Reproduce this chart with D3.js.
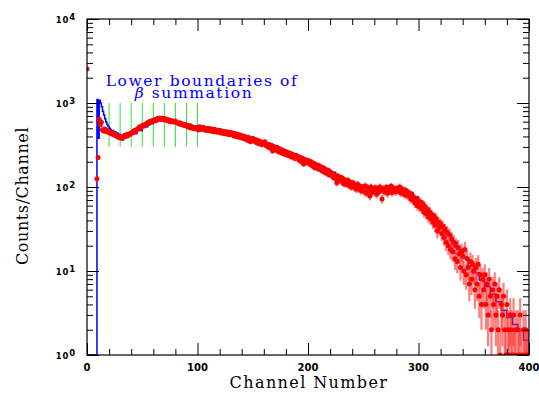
<!DOCTYPE html>
<html>
<head>
<meta charset="utf-8">
<script src="https://cdn.jsdelivr.net/npm/d3@7"></script>
<style>
body { margin: 0; background: #fff; }
.tick line { stroke: #000; }
.xlab { font-family: "DejaVu Sans", sans-serif; font-weight: bold; font-size: 10px; }
.ylab { font-family: "DejaVu Sans", sans-serif; font-weight: bold; font-size: 8.5px; letter-spacing: 0.8px; }
.title { font-family: "DejaVu Serif", serif; font-size: 16px; }
</style>
</head>
<body>
<div class="chart"></div>
<script>
// counts per channel, channel 0 .. 400
var counts = [
  2540, 0, 0, 0, 0, 0, 0, 0, 0, 125,
  225, 640, 550, 590, 480, 465, 490, 458, 475, 450,
  455, 435, 450, 425, 430, 412, 418, 398, 402, 388,
  383, 395, 378, 402, 410, 398, 422, 408, 428, 425,
  442, 438, 460, 472, 455, 485, 490, 510, 522, 505,
  535, 548, 532, 560, 568, 585, 570, 605, 590, 615,
  622, 632, 612, 645, 652, 638, 665, 648, 635, 660,
  632, 648, 620, 636, 605, 622, 598, 615, 592, 600,
  610, 585, 578, 565, 580, 555, 568, 542, 558, 535,
  548, 525, 515, 540, 505, 522, 500, 495, 512, 490,
  505, 478, 520, 495, 488, 515, 480, 502, 470, 492,
  498, 468, 495, 462, 488, 455, 482, 470, 448, 466,
  475, 440, 465, 452, 430, 458, 445, 425, 452, 420,
  445, 418, 438, 405, 432, 400, 425, 395, 420, 385,
  410, 380, 402, 372, 395, 360, 392, 365, 345, 372,
  380, 352, 368, 338, 362, 330, 350, 345, 318, 340,
  325, 345, 312, 320, 298, 318, 290, 315, 268, 302,
  288, 275, 298, 265, 285, 258, 278, 250, 270, 245,
  262, 240, 258, 236, 250, 228, 245, 232, 218, 238,
  222, 232, 208, 225, 200, 220, 188, 212, 195, 208,
  195, 205, 185, 198, 178, 192, 170, 186, 175, 165,
  180, 162, 172, 155, 168, 150, 162, 145, 158, 140,
  152, 138, 145, 130, 140, 126, 112, 135, 120, 128,
  118, 128, 110, 122, 108, 116, 120, 104, 115, 100,
  108, 112, 98, 104, 94, 108, 96, 102, 90, 99,
  100, 88, 103, 84, 98, 92, 78, 100, 86, 95,
  90, 98, 82, 95, 87, 100, 92, 72, 96, 88,
  94, 99, 84, 97, 90, 102, 86, 98, 92, 88,
  96, 90, 94, 100, 85, 95, 87, 82, 92, 80,
  88, 78, 84, 72, 80, 70, 75, 64, 71, 60,
  68, 58, 66, 55, 62, 50, 58, 48, 54, 44,
  50, 42, 47, 38, 44, 35, 42, 30, 38, 33,
  36, 28, 34, 25, 31, 22, 29, 20, 27, 18,
  24, 17, 22, 14, 20, 13, 19, 16, 11, 17,
  15, 10, 18, 9, 14, 11, 7, 13, 8, 12,
  10, 6, 11, 7, 12, 5, 9, 4, 8, 6,
  9, 4, 7, 3, 8, 5, 2, 6, 4, 7,
  3, 5, 2, 6, 1, 4, 3, 5, 2, 1,
  4, 2, 1, 3, 2, 1, 3, 1, 2, 0,
  2, 1, 3, 1, 0, 2, 1, 2, 1, 1,
  1
];

// fitted model (blue)
var modelChannel = [0, 9, 10, 11, 12, 13, 14, 15, 16, 17, 18, 19, 20, 21, 22, 24, 26, 28, 30, 33, 36,
  40, 45, 50, 55, 60, 65, 70, 75, 80, 85, 90, 95, 100, 105, 110, 115, 120, 125, 130, 135,
  140, 145, 150, 155, 160, 165, 170, 175, 180, 185, 190, 195, 200, 205, 210, 215, 220, 225,
  230, 235, 240, 245, 250, 255, 260, 265, 270, 275, 280, 285, 290, 295, 300, 305, 310, 315,
  320, 325, 330, 335, 340, 345, 350, 355, 360, 365, 370, 375, 380, 385, 390, 395, 400];
var modelCounts = [0, 1100, 380, 1080, 1000, 900, 800, 720, 650, 595, 555, 525, 500, 485, 472, 455, 440, 425, 412, 405, 410,
  430, 470, 520, 570, 610, 630, 630, 615, 595, 570, 545, 525, 505, 495, 485, 475, 462, 450, 438, 425,
  405, 388, 370, 352, 333, 315, 295, 275, 258, 243, 228, 214, 200, 188, 175, 162, 150, 137,
  123, 114, 107, 102, 98, 95, 93, 92, 92, 93, 93, 91, 86, 76, 66, 56, 47, 39,
  33, 27, 22, 18, 14.5, 11.5, 9.5, 7.8, 6.5, 5.3, 4.3, 3.4, 2.8, 2.3, 2.0, 1.5, 1.05];

// lower boundaries of beta summation (green)
var boundaries = [20, 30, 40, 50, 60, 70, 80, 90, 100];
var boundaryRange = [300, 1000];

var xTicks = [0, 100, 200, 300, 400];
var xMinor = [20, 40, 60, 80, 120, 140, 160, 180, 220, 240, 260, 280, 320, 340, 360, 380];
var yTicks = [1, 10, 100, 1000, 10000];

var W = 539, H = 395;
var margin = {top: 19, right: 10, bottom: 40, left: 87};
var width = W - margin.left - margin.right,
    height = H - margin.top - margin.bottom;

var svg = d3.select(".chart").append("svg")
    .attr("width", W)
    .attr("height", H)
  .append("g")
    .attr("transform", "translate(" + margin.left + "," + margin.top + ")");

var x = d3.scaleLinear().domain([0, 400]).range([0, width]);
var y = d3.scaleLog().domain([1, 10000]).range([height, 0]);

var yMinor = [];
yTicks.slice(0, -1).forEach(function(d){
  for (var k = 2; k < 10; k++) yMinor.push(d * k);
});

svg.append("clipPath").attr("id", "clip")
  .append("rect").attr("width", width).attr("height", height);

var plot = svg.append("g").attr("clip-path", "url(#clip)");

// green boundary lines
plot.selectAll(".bound")
    .data(boundaries)
  .enter().append("line")
    .attr("x1", function(d){ return x(d); })
    .attr("x2", function(d){ return x(d); })
    .attr("y1", y(boundaryRange[0]))
    .attr("y2", y(boundaryRange[1]))
    .style("stroke", "#33e633")
    .style("stroke-width", 1);

// model
var model = modelChannel.map(function(c, i){ return {c: c, v: modelCounts[i]}; });
var line = d3.line()
    .x(function(d){ return x(d.c); })
    .y(function(d){ return y(Math.max(d.v, 1)); })
    .curve(d3.curveStepAfter);

plot.append("path")
    .datum(model)
    .attr("d", line)
    .style("fill", "none")
    .style("stroke", "#0000ff")
    .style("stroke-width", 1.5);

// data with sqrt(N) errors
var data = counts.map(function(v, i){ return {c: i, v: v}; })
    .filter(function(d){ return d.v > 0; });

plot.selectAll(".err")
    .data(data)
  .enter().append("line")
    .attr("class", "err")
    .attr("x1", function(d){ return x(d.c); })
    .attr("x2", function(d){ return x(d.c); })
    .attr("y1", function(d){ return y(Math.max(d.v - Math.sqrt(d.v), 0.5)); })
    .attr("y2", function(d){ return y(d.v + Math.sqrt(d.v)); })
    .style("stroke", "#ff2a2a")
    .style("stroke-opacity", 0.6)
    .style("stroke-width", 2.2);

plot.selectAll(".point")
    .data(data)
  .enter().append("circle")
    .attr("class", "point")
    .attr("r", 2.5)
    .attr("cx", function(d){ return x(d.c); })
    .attr("cy", function(d){ return y(d.v); })
    .style("fill", "#ff0000");

// ticks on all four sides, pointing inward
function noLab(){ return ""; }
svg.append("g").attr("transform", "translate(0," + height + ")")
    .call(d3.axisBottom(x).tickValues(xTicks).tickSize(-12).tickSizeOuter(0).tickFormat(noLab));
svg.append("g").attr("transform", "translate(0," + height + ")")
    .call(d3.axisBottom(x).tickValues(xMinor).tickSize(-6).tickSizeOuter(0).tickFormat(noLab));
svg.append("g")
    .call(d3.axisTop(x).tickValues(xTicks).tickSize(-12).tickSizeOuter(0).tickFormat(noLab));
svg.append("g")
    .call(d3.axisTop(x).tickValues(xMinor).tickSize(-6).tickSizeOuter(0).tickFormat(noLab));
svg.append("g")
    .call(d3.axisLeft(y).tickValues(yTicks).tickSize(-12).tickSizeOuter(0).tickFormat(noLab));
svg.append("g")
    .call(d3.axisLeft(y).tickValues(yMinor).tickSize(-6).tickSizeOuter(0).tickFormat(noLab));
svg.append("g").attr("transform", "translate(" + width + ",0)")
    .call(d3.axisRight(y).tickValues(yTicks).tickSize(-12).tickSizeOuter(0).tickFormat(noLab));
svg.append("g").attr("transform", "translate(" + width + ",0)")
    .call(d3.axisRight(y).tickValues(yMinor).tickSize(-6).tickSizeOuter(0).tickFormat(noLab));
svg.selectAll(".domain").remove();

svg.append("rect")
    .attr("width", width)
    .attr("height", height)
    .style("fill", "none")
    .style("stroke", "#000")
    .style("stroke-width", 1.2);

// tick labels
svg.selectAll(".xlab")
    .data(xTicks)
  .enter().append("text")
    .attr("class", "xlab")
    .attr("x", function(d){ return x(d); })
    .attr("y", height + 16)
    .attr("text-anchor", "middle")
    .text(function(d){ return d; });

var ylab = svg.selectAll(".ylab")
    .data(yTicks)
  .enter().append("text")
    .attr("class", "ylab")
    .attr("x", -11)
    .attr("y", function(d){ return y(d) + 4; })
    .attr("text-anchor", "end");
ylab.append("tspan").text("10");
ylab.append("tspan")
    .attr("dy", -3.5)
    .text(function(d){ return Math.round(Math.log10(d)); });

// axis titles
svg.append("text")
    .attr("class", "title")
    .attr("x", 222)
    .attr("y", height + 33)
    .attr("text-anchor", "middle")
    .style("letter-spacing", "1.4px")
    .text("Channel Number");

svg.append("text")
    .attr("class", "title")
    .attr("transform", "translate(-59," + (196 - margin.top) + ") rotate(-90)")
    .attr("text-anchor", "middle")
    .style("letter-spacing", "0.6px")
    .text("Counts/Channel");

// annotation
var note = svg.append("text")
    .attr("class", "title")
    .attr("text-anchor", "middle")
    .style("fill", "#0000ff")
    .style("font-size", "15.5px")
    .style("letter-spacing", "1.6px");
note.append("tspan").attr("x", 115).attr("y", 67).text("Lower boundaries of");
note.append("tspan").attr("x", 107).attr("y", 79)
    .html('<tspan style="font-style:italic">β</tspan> summation');
</script>
</body>
</html>
